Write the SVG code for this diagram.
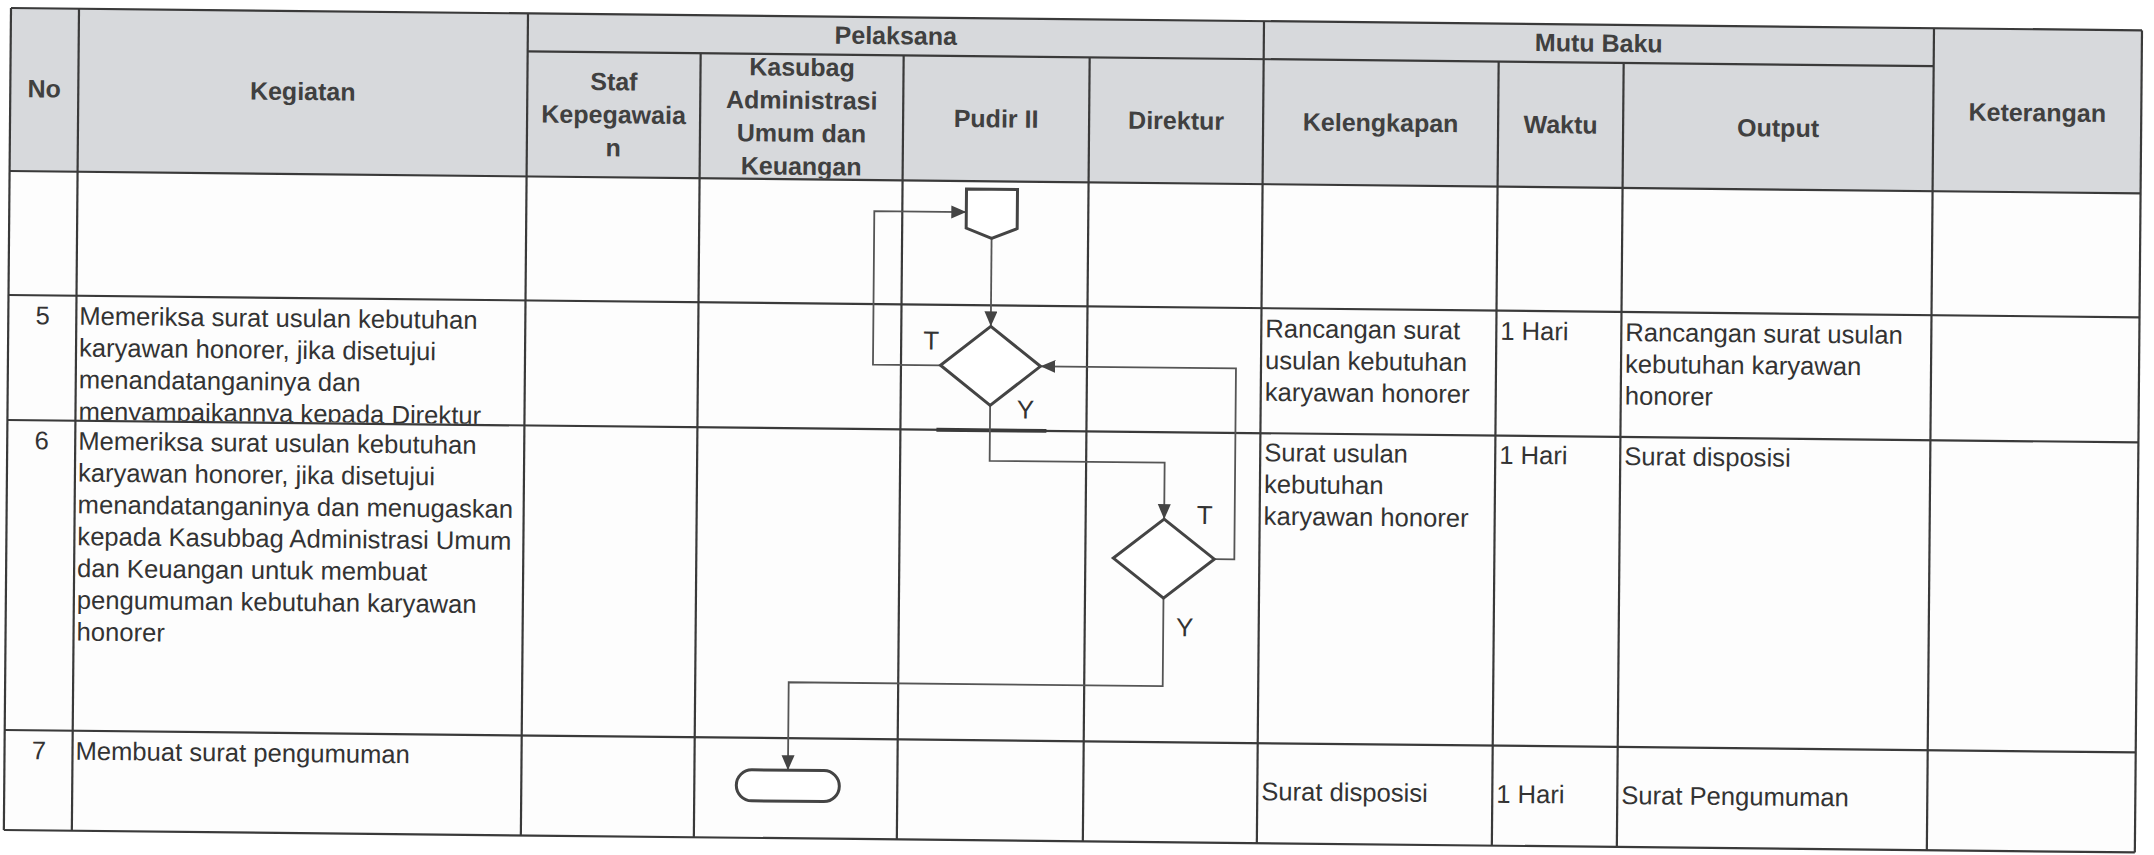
<svg xmlns="http://www.w3.org/2000/svg" width="2154" height="855" viewBox="0 0 2154 855">
<defs>
<style>
.grid{stroke:#3a3a3a;stroke-width:2.2;fill:none}
.ht{font-family:"Liberation Sans",Arial,sans-serif;font-weight:bold;font-size:25px;fill:#404040;text-anchor:middle}
.bt{font-family:"Liberation Sans",Arial,sans-serif;font-size:25.6px;fill:#333}
.num{font-family:"Liberation Sans",Arial,sans-serif;font-size:25.6px;fill:#333;text-anchor:middle}
.shape{fill:#fff;stroke:#444;stroke-width:3}
.conn{fill:none;stroke:#555;stroke-width:1.8}
.lbl{font-family:"Liberation Sans",Arial,sans-serif;font-size:26px;fill:#333;text-anchor:middle}
</style>
<marker id="arr" markerUnits="userSpaceOnUse" markerWidth="16" markerHeight="14" refX="15" refY="6.5" orient="auto"><path d="M0,0 L15,6.5 L0,13 z" fill="#444"/></marker>
<clipPath id="hclip"><rect x="701" y="46" width="203" height="124"/></clipPath>
<clipPath id="r5clip"><rect x="79" y="295" width="449" height="124"/></clipPath>
</defs>
<rect width="2154" height="855" fill="#ffffff"/>
<g transform="matrix(1 0.0105 -0.0087 1 0.07 -0.1155)">
<g id="table">
<rect x="11" y="8" width="2131" height="163" fill="#d7d9dc"/>
<rect x="11" y="171" width="2131" height="659" fill="#fdfdfd"/>
<g class="grid">
<line x1="11" y1="8" x2="2142" y2="8"/>
<line x1="528" y1="46" x2="1934" y2="46"/>
<line x1="11" y1="171" x2="2142" y2="171"/>
<line x1="11" y1="295" x2="2142" y2="295"/>
<line x1="11" y1="420" x2="2142" y2="420"/>
<line x1="11" y1="730" x2="2142" y2="730"/>
<line x1="11" y1="830" x2="2142" y2="830"/>
<line x1="11" y1="8" x2="11" y2="830"/>
<line x1="79" y1="8" x2="79" y2="830"/>
<line x1="528" y1="8" x2="528" y2="830"/>
<line x1="701" y1="46" x2="701" y2="830"/>
<line x1="904" y1="46" x2="904" y2="830"/>
<line x1="1090" y1="46" x2="1090" y2="830"/>
<line x1="1264" y1="8" x2="1264" y2="830"/>
<line x1="1499" y1="46" x2="1499" y2="830"/>
<line x1="1624" y1="46" x2="1624" y2="830"/>
<line x1="1934" y1="8" x2="1934" y2="830"/>
<line x1="2142" y1="8" x2="2142" y2="830"/>
</g>
<line x1="940" y1="420" x2="1050" y2="420" stroke="#3a3a3a" stroke-width="3.8"/>
</g>
<g id="header">
<text class="ht" x="45" y="97">No</text>
<text class="ht" x="303.5" y="97">Kegiatan</text>
<text class="ht" x="896" y="35">Pelaksana</text>
<text class="ht" x="1599" y="35">Mutu Baku</text>
<text class="ht" x="614.5" y="84">Staf</text>
<text class="ht" x="614.5" y="117">Kepegawaia</text>
<text class="ht" x="614.5" y="150">n</text>
<g clip-path="url(#hclip)">
<text class="ht" x="802.5" y="67.5">Kasubag</text>
<text class="ht" x="802.5" y="100.5">Administrasi</text>
<text class="ht" x="802.5" y="133.5">Umum dan</text>
<text class="ht" x="802.5" y="166.5">Keuangan</text>
</g>
<text class="ht" x="997" y="117">Pudir II</text>
<text class="ht" x="1177" y="117">Direktur</text>
<text class="ht" x="1381.5" y="117">Kelengkapan</text>
<text class="ht" x="1561.5" y="117">Waktu</text>
<text class="ht" x="1779" y="118">Output</text>
<text class="ht" x="2038" y="100">Keterangan</text>
</g>
<g id="row5">
<text class="num" x="45.5" y="324">5</text>
<g clip-path="url(#r5clip)">
<text class="bt" x="82" y="324">Memeriksa surat usulan kebutuhan</text>
<text class="bt" x="82" y="355.8">karyawan honorer, jika disetujui</text>
<text class="bt" x="82" y="387.6">menandatanganinya dan</text>
<text class="bt" x="82" y="419.4">menyampaikannya kepada Direktur</text>
</g>
<text class="bt" x="1268" y="324">Rancangan surat</text>
<text class="bt" x="1268" y="355.8">usulan kebutuhan</text>
<text class="bt" x="1268" y="387.6">karyawan honorer</text>
<text class="bt" x="1503" y="324">1 Hari</text>
<text class="bt" x="1628" y="324">Rancangan surat usulan</text>
<text class="bt" x="1628" y="355.8">kebutuhan karyawan</text>
<text class="bt" x="1628" y="387.6">honorer</text>
</g>
<g id="row6">
<text class="num" x="45.5" y="449">6</text>
<text class="bt" x="82" y="449">Memeriksa surat usulan kebutuhan</text>
<text class="bt" x="82" y="480.8">karyawan honorer, jika disetujui</text>
<text class="bt" x="82" y="512.6">menandatanganinya dan menugaskan</text>
<text class="bt" x="82" y="544.4">kepada Kasubbag Administrasi Umum</text>
<text class="bt" x="82" y="576.2">dan Keuangan untuk membuat</text>
<text class="bt" x="82" y="608">pengumuman kebutuhan karyawan</text>
<text class="bt" x="82" y="639.8">honorer</text>
<text class="bt" x="1268" y="448">Surat usulan</text>
<text class="bt" x="1268" y="479.8">kebutuhan</text>
<text class="bt" x="1268" y="511.6">karyawan honorer</text>
<text class="bt" x="1503" y="448">1 Hari</text>
<text class="bt" x="1628" y="448">Surat disposisi</text>
</g>
<g id="row7">
<text class="num" x="45.5" y="759">7</text>
<text class="bt" x="82" y="759">Membuat surat pengumuman</text>
<text class="bt" x="1268" y="787">Surat disposisi</text>
<text class="bt" x="1503" y="787">1 Hari</text>
<text class="bt" x="1628" y="787">Surat Pengumuman</text>
</g>
<g id="connectors">
<path class="conn" d="M993.5,228 V316" marker-end="url(#arr)"/>
<path class="conn" d="M943.5,355.5 H876 V202 H968" marker-end="url(#arr)"/>
<path class="conn" d="M993.5,395 V450.5 H1168.5 V507" marker-end="url(#arr)"/>
<path class="conn" d="M1219,546.5 H1239 V355.5 H1043.5" marker-end="url(#arr)"/>
<path class="conn" d="M1168.5,586 V674 H794.5 V762" marker-end="url(#arr)"/>
</g>
<g id="offpage">
<polygon class="shape" points="968,179 1019,179 1019,218 993.5,228 968,218"/>
</g>
<g id="decision-pudir">
<polygon class="shape" points="993.5,316 1043.5,355.5 993.5,395 943.5,355.5"/>
<text class="lbl" x="934" y="340">T</text>
<text class="lbl" x="1029" y="408">Y</text>
</g>
<g id="decision-direktur">
<polygon class="shape" points="1168.5,507 1219,546.5 1168.5,586 1118,546.5"/>
<text class="lbl" x="1209" y="511.5">T</text>
<text class="lbl" x="1190" y="624">Y</text>
</g>
<g id="terminator">
<rect class="shape" x="743" y="762" width="103" height="31" rx="15.5"/>
</g>
</g>
</svg>
